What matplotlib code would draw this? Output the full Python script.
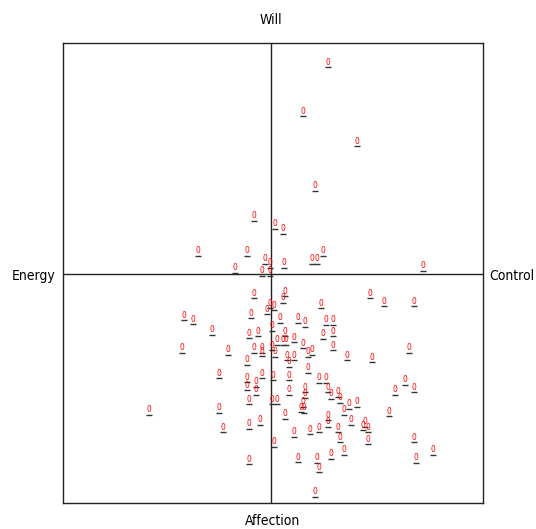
import matplotlib
matplotlib.use('Agg')
import matplotlib.pyplot as plt
from matplotlib.transforms import ScaledTranslation

# scores on the two axes (Energy<->Control, Affection<->Will)
control = [0.57, 0.32, 0.86, 0.44, -0.17, 0.04, 0.12, -0.73, -0.24, 0.52,
           -0.06, 0.41, 0.46, -0.01, 0.13, -0.36, -0.09, -0.01, 1.52,
           -0.17, 0.14, 0.12, -0.01, 0.03, -0.04, 0.99, 1.13, 1.43, 0.50,
           -0.87, -0.78, -0.20, 0.09, 0.27, 0.34, 0.55, 0.62, -0.59, -0.22,
           -0.13, 0.01, 0.14, 0.62, 0.52, 0.23, 0.06, 0.12, 0.15, 0.32,
           0.01, 0.62, -0.89, -0.43, -0.17, -0.09, -0.09, 0.04, 0.16, 0.23,
           0.37, 0.41, 0.76, 1.01, 1.38, 0.18, -0.24, 0.37, -0.52, -0.09,
           0.02, 0.18, -0.24, -0.24, -0.15, -0.15, 0.18, 0.34, 0.34, 0.48,
           0.55, 0.57, 0.60, 0.67, 0.69, 0.78, 0.86, 0.73, 1.18, 1.24,
           1.34, 1.43, -0.22, 0.01, 0.06, 0.32, 0.30, 0.33, -1.22, -0.52,
           0.14, 0.57, -0.11, -0.48, -0.22, 0.57, 0.80, 0.94, 0.92, 0.97,
           0.23, 0.39, 0.48, 0.67, 0.69, 0.97, 1.43, 0.03, 1.62, 0.73,
           0.60, 0.27, 0.46, 0.48, 1.45, -0.22, 0.44]
will = [2.11, 1.62, 1.32, 0.88, 0.58, 0.50, 0.45, 0.23, 0.23, 0.23,
        0.15, 0.15, 0.15, 0.11, 0.11, 0.06, 0.03, 0.03, 0.08,
        -0.19, -0.17, -0.24, -0.29, -0.31, -0.35, -0.19, -0.27, -0.27, -0.29,
        -0.41, -0.45, -0.39, -0.44, -0.44, -0.48, -0.46, -0.46, -0.56, -0.59,
        -0.57, -0.52, -0.57, -0.57, -0.60, -0.63, -0.66, -0.66, -0.66, -0.69,
        -0.71, -0.71, -0.74, -0.76, -0.74, -0.74, -0.77, -0.78, -0.81, -0.81,
        -0.78, -0.76, -0.81, -0.83, -0.74, -0.88, -0.86, -0.94, -0.99, -0.99,
        -1.01, -1.01, -1.03, -1.11, -1.08, -1.16, -1.16, -1.13, -1.19, -1.04,
        -1.04, -1.13, -1.20, -1.18, -1.24, -1.30, -1.28, -1.36, -1.37, -1.16,
        -1.06, -1.13, -1.25, -1.25, -1.25, -1.28, -1.33, -1.34, -1.36, -1.34,
        -1.40, -1.41, -1.46, -1.53, -1.50, -1.48, -1.46, -1.48, -1.51, -1.53,
        -1.58, -1.55, -1.53, -1.53, -1.63, -1.65, -1.63, -1.68, -1.76, -1.76,
        -1.80, -1.83, -1.84, -1.93, -1.84, -1.85, -2.18]
point_label = '0'

fonts = ['Liberation Sans Narrow', 'DejaVu Sans']

fig = plt.figure(figsize=(5.36, 5.29), dpi=100)
ax = fig.add_axes([63/536, 26/529, 420/536, 460/529])
ax.set_xlim(-2.08, 2.12)
ax.set_ylim(-2.29, 2.31)
ax.set_xticks([])
ax.set_yticks([])
for s in ax.spines.values():
    s.set_color('#222222')
    s.set_linewidth(1)

ax.axhline(0, color='#222222', lw=1)
ax.axvline(0, color='#222222', lw=1)

# little underline under every label
under = ax.transData + ScaledTranslation(0, -0.045, fig.dpi_scale_trans)
ax.plot(control, will, ls='none', marker='_', ms=4, mew=1, color='#333333',
        transform=under)
for x, y in zip(control, will):
    ax.text(x, y, point_label, color='red', fontsize=6, ha='center',
            va='center', family=fonts, fontstretch='condensed')

kw = dict(va='center', fontsize=10, family=fonts, fontstretch='condensed')
fig.text(271/536, 1-20/529, 'Will', ha='center', **kw)
fig.text(273/536, 1-521/529, 'Affection', ha='center', **kw)
fig.text(12/536, 1-276/529, 'Energy', ha='left', **kw)
fig.text(534/536, 1-276/529, 'Control', ha='right', **kw)

fig.savefig('out.png', dpi=100)
